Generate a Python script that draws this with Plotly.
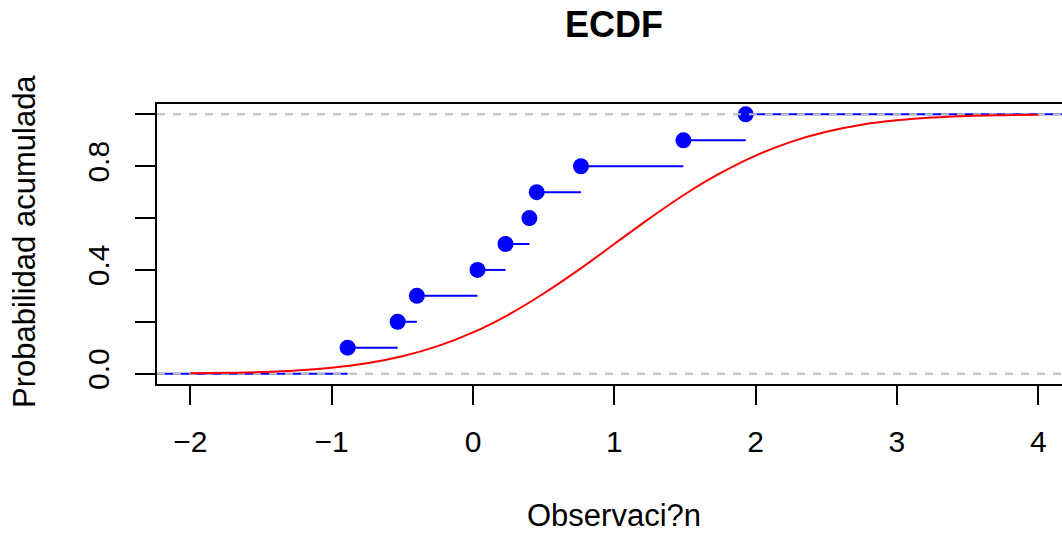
import plotly.graph_objects as go

obs = [-0.887, -0.533, -0.397, 0.032, 0.230, 0.399, 0.451, 0.764, 1.489, 1.930]

# Theoretical CDF curve (red), values read at these x positions
curve_x = [-2.0, -1.75, -1.5, -1.25, -1.0, -0.75, -0.5, -0.25, 0.0, 0.25, 0.5, 0.75,
           1.0, 1.25, 1.5, 1.75, 2.0, 2.25, 2.5, 2.75, 3.0, 3.25, 3.5, 3.75, 4.0]
curve_y = [0.001, 0.003, 0.006, 0.012, 0.023, 0.040, 0.067, 0.106, 0.159, 0.227, 0.309, 0.401,
           0.500, 0.599, 0.692, 0.773, 0.841, 0.894, 0.933, 0.960, 0.977, 0.988, 0.994, 0.997, 0.999]

x_ticks = [-2, -1, 0, 1, 2, 3, 4]
y_ticks = [0.0, 0.2, 0.4, 0.6, 0.8, 1.0]
y_ticktext = ["0.0", "", "0.4", "", "0.8", ""]
ref_lines = [0.0, 1.0]

title = "ECDF"
x_title = "Observaci?n"
y_title = "Probabilidad acumulada"

x_range = [-2.236, 4.168]
y_range = [-0.04, 1.04]

FONT = "Liberation Sans, Arial, Helvetica, sans-serif"
BLUE = "#0000FF"

n = len(obs)
ecdf_y = [(i + 1) / n for i in range(n)]

# step segments
seg_x, seg_y = [], []
seg_x += [x_range[0], obs[0], None]
seg_y += [0, 0, None]
for i in range(n):
    x_end = obs[i + 1] if i + 1 < n else x_range[1]
    seg_x += [obs[i], x_end, None]
    seg_y += [ecdf_y[i], ecdf_y[i], None]

fig = go.Figure()
fig.add_trace(go.Scatter(x=seg_x, y=seg_y, mode="lines",
                         line=dict(color=BLUE, width=2), hoverinfo="skip", showlegend=False))
fig.add_trace(go.Scatter(x=obs, y=ecdf_y, mode="markers",
                         marker=dict(color=BLUE, size=16, line=dict(width=0)), showlegend=False))
for h in ref_lines:
    fig.add_trace(go.Scatter(x=x_range, y=[h, h], mode="lines",
                             line=dict(color="#BEBEBE", width=2, dash="8px,8px"),
                             hoverinfo="skip", showlegend=False))
fig.add_trace(go.Scatter(x=curve_x, y=curve_y, mode="lines", line_shape="spline",
                         line=dict(color="#FF0000", width=2), showlegend=False))

fig.update_layout(
    width=1062, height=534,
    margin=dict(l=157, r=0, t=104, b=150),
    paper_bgcolor="white", plot_bgcolor="white",
    font=dict(family=FONT, color="black", size=30),
    showlegend=False,
)
fig.update_xaxes(range=x_range, tickvals=x_ticks, ticks="outside", ticklen=19, tickwidth=2,
                 tickcolor="black", showline=True, linecolor="black", linewidth=2, mirror=True,
                 showgrid=False, zeroline=False, tickfont=dict(size=30), ticklabelstandoff=11)
fig.update_yaxes(range=y_range, tickvals=y_ticks, ticktext=y_ticktext, ticks="outside", ticklen=20,
                 tickwidth=2, tickcolor="black", showline=True, linecolor="black", linewidth=2,
                 showgrid=False, zeroline=False, tickangle=-90, tickfont=dict(size=30),
                 ticklabelstandoff=14)

fig.add_annotation(text="<b>" + title + "</b>", x=0.505, y=(384 - 25) / 280, xref="paper", yref="paper",
                   showarrow=False, font=dict(size=36), xanchor="center", yanchor="middle")
fig.add_annotation(text=x_title, x=0.505, y=(384 - 515) / 280, xref="paper", yref="paper",
                   showarrow=False, font=dict(size=31), xanchor="center", yanchor="middle")
fig.add_annotation(text=y_title, x=(24 - 157) / 905, y=(384 - 242) / 280, xref="paper", yref="paper",
                   showarrow=False, font=dict(size=31), textangle=-90, xanchor="center", yanchor="middle")

fig.write_html("out.html")
